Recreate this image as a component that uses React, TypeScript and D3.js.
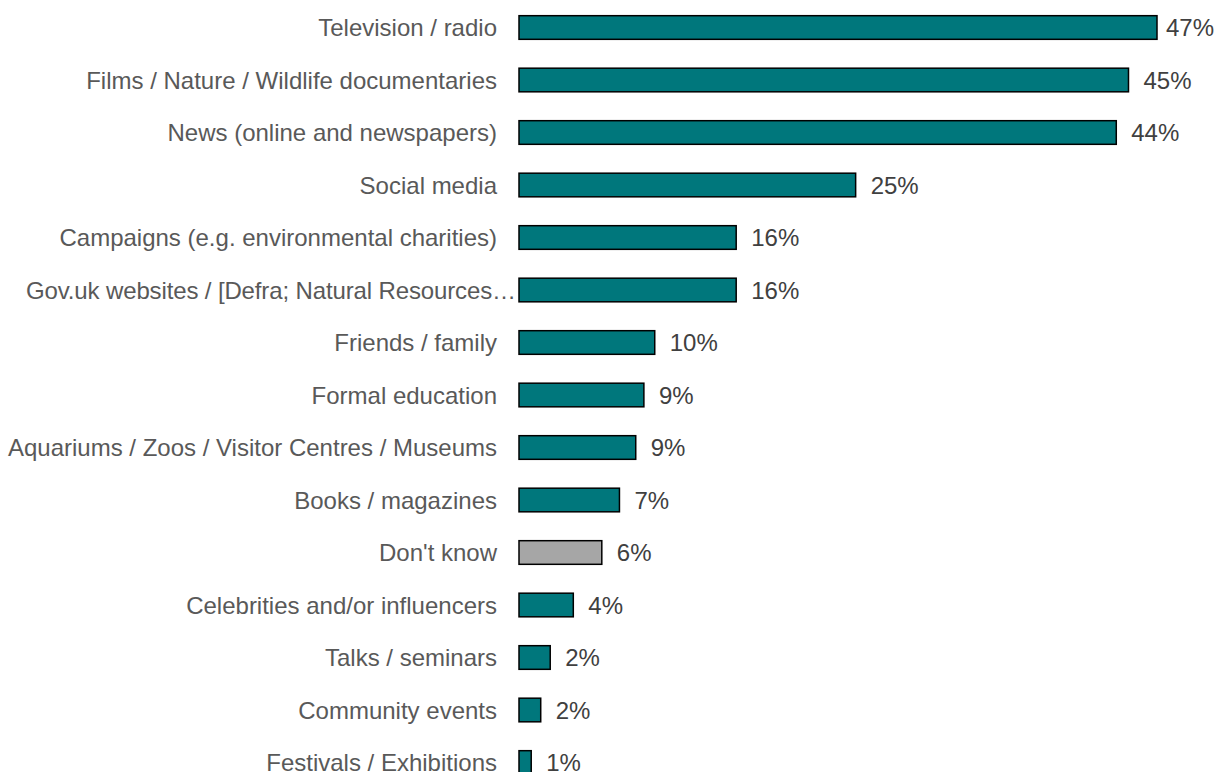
import React from 'react';
import * as d3 from 'd3';

const categories = [
  'Television / radio',
  'Films / Nature / Wildlife documentaries',
  'News (online and newspapers)',
  'Social media',
  'Campaigns (e.g. environmental charities)',
  'Gov.uk websites / [Defra; Natural Resources\u2026',
  'Friends / family',
  'Formal education',
  'Aquariums / Zoos / Visitor Centres / Museums',
  'Books / magazines',
  "Don't know",
  'Celebrities and/or influencers',
  'Talks / seminars',
  'Community events',
  'Festivals / Exhibitions',
];

const values = [47, 44.9, 44, 24.8, 16, 16, 10, 9.2, 8.6, 7.4, 6.1, 4.0, 2.3, 1.6, 0.9];

const greyCategories = ["Don't know"];

const width = 1217;
const height = 772;

const App: React.FC = () => {
  const x = d3.scaleLinear().domain([0, 47]).range([519, 1157]);
  const step = 52.5;
  const y = d3
    .scaleBand<string>()
    .domain(categories)
    .range([1.25, 1.25 + step * categories.length])
    .paddingInner(0.55)
    .paddingOuter(0.275);
  const fmt = (v: number) => `${d3.format('.0f')(v)}%`;

  return (
    <svg
      width={width}
      height={height}
      style={{ position: 'absolute', left: 0, top: 0, display: 'block', background: '#fff' }}
      fontFamily="'Liberation Sans', Arial, sans-serif"
    >
      {categories.map((c, i) => {
        const y0 = y(c) as number;
        const cy = y0 + y.bandwidth() / 2;
        const xEnd = x(values[i]);
        // truncated label runs up to the bar edge, like the original
        const truncated = c.endsWith('\u2026');
        return (
          <g key={c}>
            <text
              x={truncated ? 516 : 497}
              y={cy}
              textAnchor="end"
              dominantBaseline="central"
              fontSize={24}
              fill="#595959"
              textLength={truncated ? 490 : undefined}
              lengthAdjust="spacing"
            >
              {c}
            </text>
            <rect
              x={x(0)}
              y={y0}
              width={xEnd - x(0)}
              height={y.bandwidth()}
              fill={greyCategories.includes(c) ? '#A6A6A6' : '#00777C'}
              stroke="#000"
              strokeWidth={1.5}
            />
            <text
              x={Math.min(xEnd + 15, 1166)}
              y={cy}
              dominantBaseline="central"
              fontSize={24}
              fill="#404040"
            >
              {fmt(values[i])}
            </text>
          </g>
        );
      })}
    </svg>
  );
};

export default App;
